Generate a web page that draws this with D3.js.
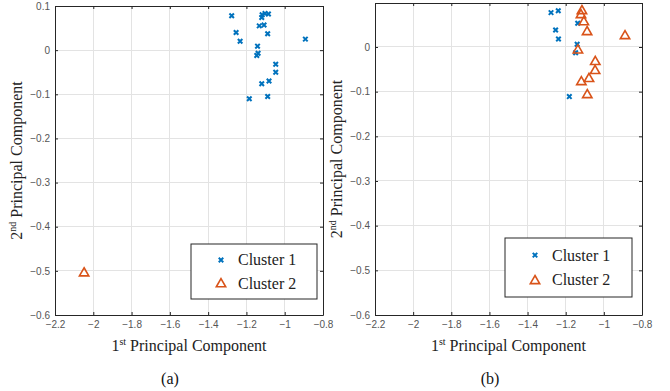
<!DOCTYPE html>
<html><head><meta charset="utf-8">
<script src="https://cdn.jsdelivr.net/npm/d3@7"></script>
<style>body{margin:0;background:#fff}svg{display:block}</style>
</head><body>
<svg id="c" width="670" height="391"></svg>
<script>
// ---- data ----
const xTicks = [-2.2,-2,-1.8,-1.6,-1.4,-1.2,-1,-0.8];
const yTicksA = [0.1,0,-0.1,-0.2,-0.3,-0.4,-0.5,-0.6];
const yTicksB = [0,-0.1,-0.2,-0.3,-0.4,-0.5,-0.6];
const seriesNames = ["Cluster 1","Cluster 2"];
// panel (a)
const aCluster1X = [-1.277,-1.118,-1.103,-1.085,-1.120,-1.133,-1.108,-1.254,-1.089,-1.233,-0.892,-1.142,-1.139,-1.146,-1.047,-1.047,-1.082,-1.120,-1.185,-1.089];
const aCluster1Y = [0.078,0.080,0.083,0.082,0.074,0.055,0.057,0.040,0.037,0.020,0.025,0.009,-0.007,-0.012,-0.032,-0.050,-0.070,-0.076,-0.110,-0.105];
const aCluster2X = [-2.048];
const aCluster2Y = [-0.503];
// panel (b)
const bCluster1X = [-1.277,-1.239,-1.253,-1.238,-1.137,-1.140,-1.148,-1.181];
const bCluster1Y = [0.077,0.081,0.038,0.018,0.053,0.006,-0.013,-0.111];
const bCluster2X = [-1.115,-1.120,-1.105,-1.088,-0.889,-1.136,-1.045,-1.046,-1.078,-1.118,-1.087];
const bCluster2Y = [0.083,0.074,0.058,0.036,0.027,-0.005,-0.031,-0.051,-0.069,-0.076,-0.105];

const C1 = "#0072BD", C2 = "#D95319";
const svg = d3.select("#c");

function panel(o){
  const g = svg.append("g");
  const x = d3.scaleLinear().domain([-2.2,-0.8]).range([o.x0,o.x1]);
  const y = d3.scaleLinear().domain(o.ydom).range([o.yb,o.yt]);
  // grid
  g.append("g").selectAll("line").data(xTicks).join("line")
    .attr("x1",d=>x(d)).attr("x2",d=>x(d)).attr("y1",o.yt).attr("y2",o.yb)
    .attr("stroke","#e3e3e3").attr("stroke-width",1).attr("shape-rendering","crispEdges");
  g.append("g").selectAll("line").data(o.yTicks).join("line")
    .attr("x1",o.x0).attr("x2",o.x1).attr("y1",d=>y(d)).attr("y2",d=>y(d))
    .attr("stroke","#e3e3e3").attr("stroke-width",1).attr("shape-rendering","crispEdges");
  // axes
  const ax = d3.axisBottom(x).tickValues(xTicks).tickFormat(d3.format("")).tickSizeInner(-3).tickSizeOuter(0).tickPadding(6);
  const ay = d3.axisLeft(y).tickValues(o.yTicks).tickFormat(d3.format("")).tickSizeInner(-3).tickSizeOuter(0).tickPadding(5);
  const gx = g.append("g").attr("transform",`translate(0,${o.yb})`).call(ax);
  const gy = g.append("g").attr("transform",`translate(${o.x0},0)`).call(ay);
  const gx2 = g.append("g").attr("transform",`translate(0,${o.yt})`).call(d3.axisTop(x).tickValues(xTicks).tickFormat("").tickSizeInner(-3).tickSizeOuter(0));
  const gy2 = g.append("g").attr("transform",`translate(${o.x1},0)`).call(d3.axisRight(y).tickValues(o.yTicks).tickFormat("").tickSizeInner(-3).tickSizeOuter(0));
  [gx,gy,gx2,gy2].forEach(a=>{
    a.select(".domain").attr("stroke","#262626").attr("stroke-width",1);
    a.selectAll(".tick line").attr("stroke","#262626");
    a.selectAll("text").attr("font-family","Liberation Sans, Arial, sans-serif").attr("font-size",10).attr("fill","#555");
  });
  // data
  const c1 = o.c1x.map((v,i)=>[v,o.c1y[i]]);
  const c2 = o.c2x.map((v,i)=>[v,o.c2y[i]]);
  const cross = d3.symbol().type(d3.symbolX).size(15);
  const tri = d3.symbol().type(d3.symbolTriangle).size(38);
  g.append("g").selectAll("path").data(c1).join("path")
    .attr("d",cross).attr("transform",d=>`translate(${x(d[0])},${y(d[1])})`)
    .attr("fill","none").attr("stroke",C1).attr("stroke-width",2);
  g.append("g").selectAll("path").data(c2).join("path")
    .attr("d",tri).attr("transform",d=>`translate(${x(d[0])},${y(d[1])+1})`)
    .attr("fill","none").attr("stroke",C2).attr("stroke-width",1.6);
  // axis labels
  const xl = g.append("text").attr("x",(o.x0+o.x1)/2).attr("y",351).attr("text-anchor","middle")
    .attr("font-family","Liberation Serif, Times New Roman, serif").attr("font-size",16).attr("fill","#222");
  xl.append("tspan").text("1");
  xl.append("tspan").text("st").attr("font-size",10).attr("dy",-6);
  xl.append("tspan").text(" Principal Component").attr("dy",6);
  const yl = g.append("text").attr("transform",`translate(${o.x0-33},${(o.yt+o.yb)/2}) rotate(-90)`).attr("text-anchor","middle")
    .attr("font-family","Liberation Serif, Times New Roman, serif").attr("font-size",16).attr("fill","#222");
  yl.append("tspan").text("2");
  yl.append("tspan").text("nd").attr("font-size",10).attr("dy",-6);
  yl.append("tspan").text(" Principal Component").attr("dy",6);
  // legend
  const L = o.leg;
  g.append("rect").attr("x",L.x).attr("y",L.y).attr("width",L.w).attr("height",L.h)
    .attr("fill","#fff").attr("stroke","#262626").attr("stroke-width",1);
  seriesNames.forEach((nm,i)=>{
    const yy = L.y + L.h*(i===0?0.29:0.71);
    g.append("path").attr("d",i===0?cross:tri).attr("transform",`translate(${L.x+30},${yy+(i?1:0)})`)
      .attr("fill","none").attr("stroke",i===0?C1:C2).attr("stroke-width",i===0?2:1.6);
    g.append("text").attr("x",L.x+47).attr("y",yy+5.5).text(nm)
      .attr("font-family","Liberation Serif, Times New Roman, serif").attr("font-size",16).attr("fill","#222");
  });
  g.append("text").attr("x",o.cap).attr("y",384).attr("text-anchor","middle").text(o.label)
    .attr("font-family","Liberation Serif, Times New Roman, serif").attr("font-size",16).attr("fill","#111");
}

panel({x0:55,x1:323,yt:6,yb:315,ydom:[-0.6,0.1],yTicks:yTicksA,
  c1x:aCluster1X,c1y:aCluster1Y,c2x:aCluster2X,c2y:aCluster2Y,
  leg:{x:191,y:244,w:126,h:55},cap:170,label:"(a)"});
panel({x0:375,x1:642,yt:3,yb:315,ydom:[-0.6,0.0985],yTicks:yTicksB,
  c1x:bCluster1X,c1y:bCluster1Y,c2x:bCluster2X,c2y:bCluster2Y,
  leg:{x:505,y:238,w:127,h:59},cap:490,label:"(b)"});
</script>
</body></html>
